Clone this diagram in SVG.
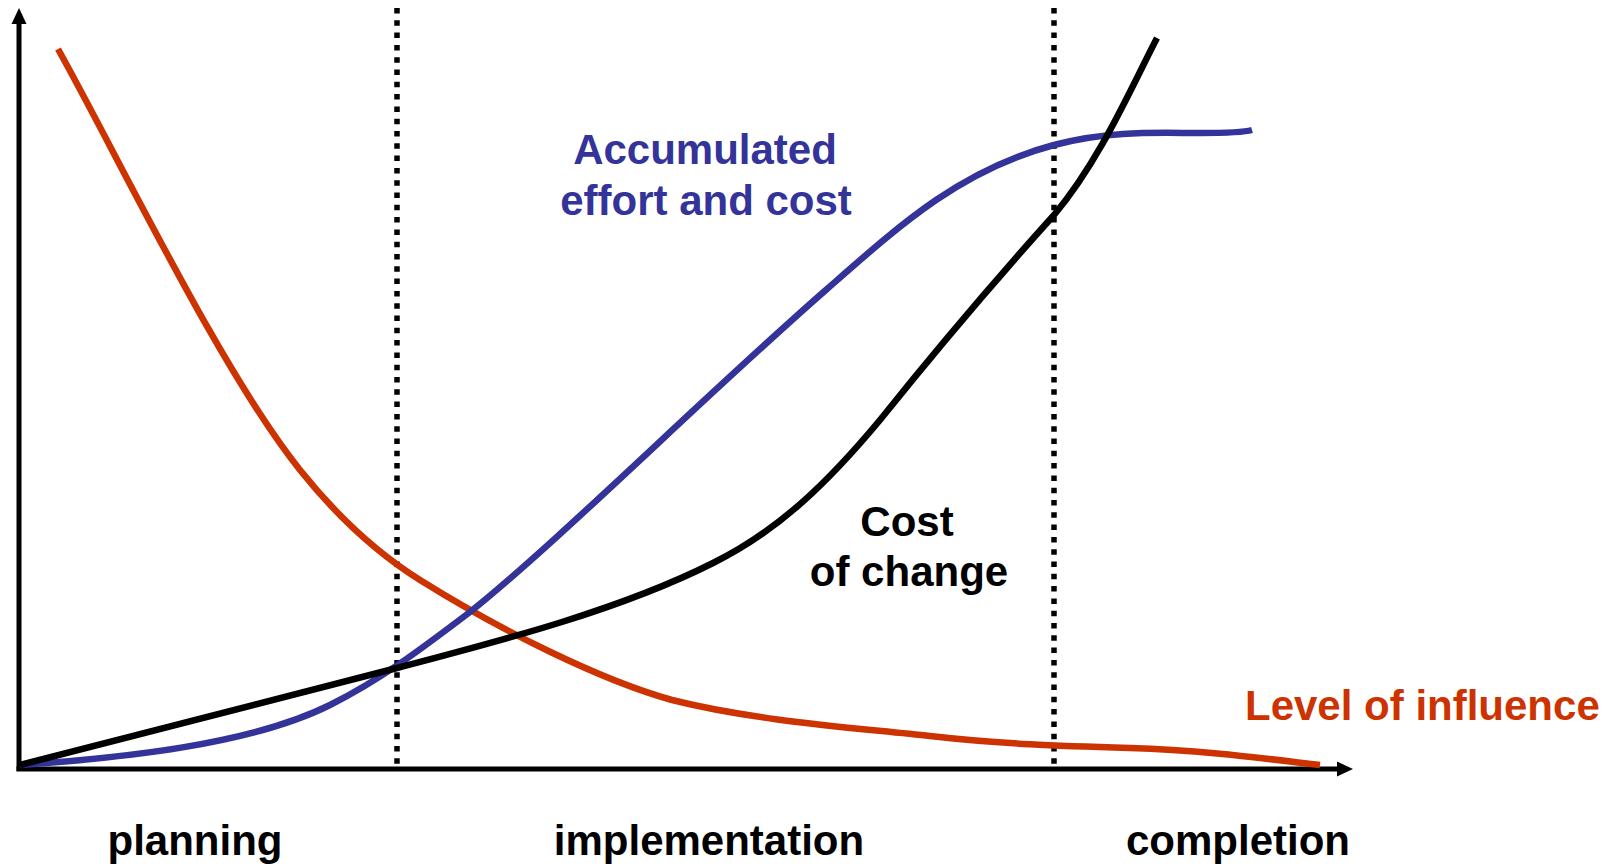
<svg xmlns="http://www.w3.org/2000/svg" width="1620" height="866" viewBox="0 0 1620 866">
<style>
.t{font-family:"Liberation Sans",Arial,sans-serif;font-weight:bold;font-size:42px;text-anchor:middle}
.curve{fill:none;stroke-width:6.5;stroke-linecap:butt;stroke-linejoin:round}
.dot{stroke:#000;stroke-width:5.5;stroke-dasharray:5.5 6.8;fill:none}
.axis{stroke:#000;stroke-width:5;fill:none}
</style>
<rect width="1620" height="866" fill="#fff"/>
<g id="connectors">
<g id="axes">
<line class="axis" x1="19" y1="771" x2="19" y2="21"/>
<polygon points="19,8 11.5,24 26.5,24" fill="#000"/>
<line class="axis" x1="16.5" y1="769" x2="1339" y2="769"/>
<polygon points="1353,769 1337,761.5 1337,776.5" fill="#000"/>
</g>
<line class="dot" x1="397" y1="8" x2="397" y2="769"/>
<line class="dot" x1="1054" y1="8" x2="1054" y2="769"/>
<path id="influence" class="curve" stroke="#CC3300" d="M58,49 C120,160 220,370 300,470 C340,520 380,555 420,580 C500,630 600,680 672,700 C760,722 860,728 930,736 C1000,744 1060,746 1130,748 C1200,750 1260,758 1320,765"/>
<path id="effort" class="curve" stroke="#333399" d="M20,765 C120,758 250,745 330,705 C380,680 420,650 470,612 C560,540 700,400 827,289 C900,225 960,170 1054,145 C1110,130 1160,133 1200,133 C1230,133 1245,132 1252,130"/>
<path id="change" class="curve" stroke="#000" d="M20,765 L397,668 C500,641 620,610 713,563 C780,530 830,480 880,420 C940,345 1000,275 1054,215 C1100,160 1130,90 1157,38"/>
</g>
<g id="label-effort">
<text class="t" fill="#333399" x="705" y="164">Accumulated</text>
<text class="t" fill="#333399" x="706" y="215">effort and cost</text>
</g>
<g id="label-change">
<text class="t" fill="#000" x="907" y="536">Cost</text>
<text class="t" fill="#000" x="909" y="586">of change</text>
</g>
<g id="label-influence">
<text class="t" fill="#CC3300" x="1245" y="720" style="text-anchor:start">Level of influence</text>
</g>
<g id="phase-planning"><text class="t" fill="#000" x="195" y="855">planning</text></g>
<g id="phase-implementation"><text class="t" fill="#000" x="709" y="855">implementation</text></g>
<g id="phase-completion"><text class="t" fill="#000" x="1238" y="855">completion</text></g>
</svg>
